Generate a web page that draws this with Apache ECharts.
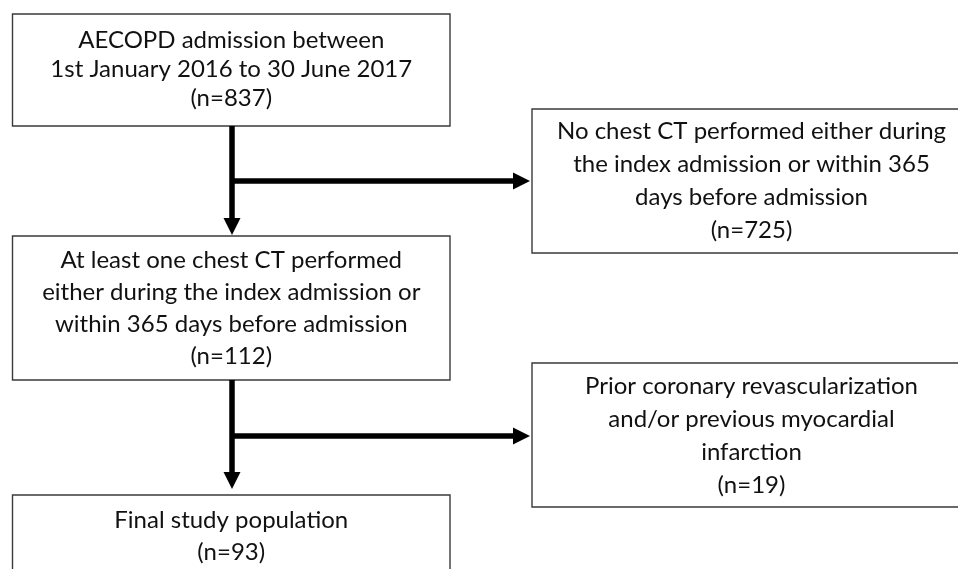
<!DOCTYPE html>
<html>
<head>
<meta charset="utf-8">
<script src="https://cdn.jsdelivr.net/npm/echarts@6/dist/echarts.min.js"></script>
<style>
  html, body { margin: 0; padding: 0; background: #fff; }
  #chart { width: 958px; height: 569px; }
</style>
</head>
<body>
<div id="chart"></div>
<script>
// flow step labels and counts
const stepTexts = [
  'AECOPD admission between\n1st January 2016 to 30 June 2017',
  'No chest CT performed either during\nthe index admission or within 365\ndays before admission',
  'At least one chest CT performed\neither during the index admission or\nwithin 365 days before admission',
  'Prior coronary revascularization\nand/or previous myocardial\ninfarction',
  'Final study population'
]
const stepCounts = [837, 725, 112, 19, 93]

// layout (pixel space of the hidden axes)
const boxLayout = [
  [12.5, 14, 450, 126, 29],
  [532, 109, 971, 253, 33],
  [12.5, 236, 450, 380, 32],
  [532, 363, 971, 507, 33],
  [12.5, 495, 450, 640, 32]
]
const boxTextCenterY = [69.5, 181, 308, 436, 536]
// [x1, y1, x2, y2] connector lines, last point gets an arrow head
const arrowLayout = [
  [232, 126, 232, 235],
  [232, 181, 530, 181],
  [232, 380, 232, 489],
  [232, 436, 530, 436]
]

const chart = echarts.init(document.getElementById('chart'))

const boxData = boxLayout.map(function (b, i) {
  return b.concat([boxTextCenterY[i], i])
})

chart.setOption({
  animation: false,
  grid: { left: 0, right: 0, top: 0, bottom: 0 },
  xAxis: { type: 'value', min: 0, max: 958, show: false },
  yAxis: { type: 'value', min: 0, max: 569, inverse: true, show: false },
  series: [
    {
      type: 'custom',
      coordinateSystem: 'cartesian2d',
      data: boxData,
      encode: { x: [0, 2], y: [1, 3] },
      renderItem: function (params, api) {
        const p0 = api.coord([api.value(0), api.value(1)])
        const p1 = api.coord([api.value(2), api.value(3)])
        const lh = api.value(4)
        const cy = api.coord([0, api.value(5)])[1]
        const idx = api.value(6)
        return {
          type: 'group',
          children: [
            {
              type: 'rect',
              shape: { x: p0[0], y: p0[1], width: p1[0] - p0[0], height: p1[1] - p0[1] },
              style: { fill: '#fff', stroke: '#3a3a3a', lineWidth: 1.4 }
            },
            {
              type: 'text',
              style: {
                text: stepTexts[idx] + '\n(n=' + stepCounts[idx] + ')',
                x: (p0[0] + p1[0]) / 2,
                y: cy,
                align: 'center',
                verticalAlign: 'middle',
                fontFamily: 'Lato',
                fontSize: 24,
                lineHeight: lh,
                fill: '#111'
              }
            }
          ]
        }
      }
    },
    {
      type: 'custom',
      coordinateSystem: 'cartesian2d',
      data: arrowLayout,
      encode: { x: [0, 2], y: [1, 3] },
      renderItem: function (params, api) {
        const a = api.coord([api.value(0), api.value(1)])
        const b = api.coord([api.value(2), api.value(3)])
        const dx = b[0] - a[0]
        const dy = b[1] - a[1]
        const len = Math.sqrt(dx * dx + dy * dy)
        const ux = dx / len
        const uy = dy / len
        const head = 17
        const half = 8.5
        const bx = b[0] - ux * head
        const by = b[1] - uy * head
        return {
          type: 'group',
          children: [
            {
              type: 'line',
              shape: { x1: a[0], y1: a[1], x2: bx + ux, y2: by + uy },
              style: { stroke: '#000', lineWidth: 5.5 }
            },
            {
              type: 'polygon',
              shape: {
                points: [
                  [b[0], b[1]],
                  [bx - uy * half, by + ux * half],
                  [bx + uy * half, by - ux * half]
                ]
              },
              style: { fill: '#000' }
            }
          ]
        }
      }
    }
  ]
})
</script>
</body>
</html>
